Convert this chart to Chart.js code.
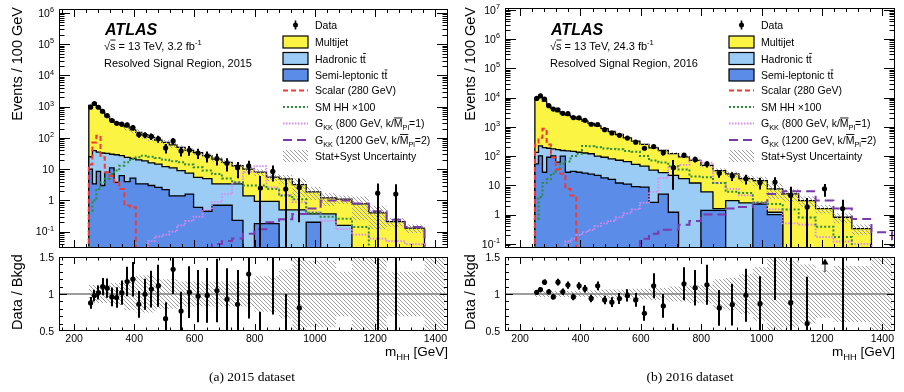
<!DOCTYPE html>
<html>
<head>
<meta charset="utf-8">
<title>m_HH, resolved signal region</title>
<script src="https://cdn.jsdelivr.net/npm/chart.js@4.4.1/dist/chart.umd.min.js"></script>
<style>
  html, body { margin: 0; padding: 0; background: #fff; }
  #page { position: relative; width: 904px; height: 392px; overflow: hidden; }
  #page canvas { position: absolute; }
</style>
</head>
<body>
<div id="page">
  <canvas id="main2015" width="452" height="252" style="left:0px;top:0px"></canvas>
  <canvas id="ratio2015" width="452" height="140" style="left:0px;top:252px"></canvas>
  <canvas id="main2016" width="452" height="252" style="left:452px;top:0px"></canvas>
  <canvas id="ratio2016" width="452" height="140" style="left:452px;top:252px"></canvas>
</div>
<script>
// m_HH binning (GeV), shared by both datasets
const binEdges = [249, 261, 274, 288, 302, 318, 333, 350, 367, 386, 405, 425, 446, 468, 492, 516,
  542, 569, 597, 627, 658, 691, 725, 761, 799, 839, 881, 925, 971, 1019, 1070, 1123, 1179, 1238,
  1299, 1364, 1432];
const xRange = [150, 1442];
const xTickLabels = [200, 400, 600, 800, 1000, 1200, 1400];
const ratioTickLabels = [0.5, 1, 1.5];

// 2015, events / 100 GeV
const multijet15 = [1075, 1251, 905, 617, 448, 347, 281, 243, 201, 158, 130, 106, 89, 70, 60, 49,
  41, 32.5, 28.5, 22, 17.6, 13.2, 9.5, 8.6, 7.1, 4.6, 4.4, 2.7, 1.5, 0.83, 0.94, 0.78, 0.40, 0.21, 0.13, 0];
const hadronic15 = [15, 35.6, 26.5, 30, 24.1, 19, 25.2, 20.8, 20, 16.8, 16.6, 15.1, 13, 11.9, 9.8, 9.6,
  7.6, 5.9, 4.9, 4.55, 2.7, 2.7, 3.17, 1.4, 0.75, 0.75, 0.5, 0.5, 0.17, 0.37, 0.16, 0, 0, 0, 0, 0];
const semilep15 = [10, 3.4, 8.5, 3.0, 7.9, 11, 3.8, 6.2, 4.0, 5.2, 3.4, 3.4, 3.0, 2.6, 2.2, 1.4,
  1.4, 1.6, 0.6, 0.45, 0.7, 0.7, 0.23, 0, 0.18, 0.18, 0, 0, 0.2, 0, 0, 0, 0, 0, 0, 0];
const scalar15 = [14, 72, 117, 24, 8, 6, 3.8, 2.3, 0.69, 0.6, 0, 0, 0, 0, 0, 0,
  0, 0, 0, 0, 0, 0, 0, 0, 0, 0, 0, 0, 0, 0, 0, 0, 0, 0, 0, 0];
const smhh15 = [0.47, 1.0, 2.3, 3.8, 4.9, 7, 9, 12.9, 16.6, 21, 24, 27, 25, 23, 20, 18,
  16.6, 14, 11.5, 9, 7, 5, 3.8, 3.0, 3.0, 2.3, 1.4, 1.1, 0.4, 0.3, 0.26, 0.14, 0, 0, 0, 0];
const gkk800_15 = [0, 0, 0, 0, 0, 0, 0, 0, 0, 0, 0, 0, 0.05, 0.07, 0.08, 0.1,
  0.16, 0.22, 0.3, 0.5, 0.88, 1.6, 3.8, 8, 12.5, 2.6, 1.5, 0.88, 0.42, 0.22, 0.12, 0.08, 0.06, 0.05, 0.04, 0];
const gkk1200_15 = [0, 0, 0, 0, 0, 0, 0, 0, 0, 0, 0, 0, 0, 0, 0, 0,
  0, 0, 0, 0, 0.04, 0.05, 0.06, 0.085, 0.12, 0.2, 0.25, 0.37, 0.55, 1.0, 1.0, 0.8, 0.45, 0.24, 0.14, 0];
const data15 = [968, 1264, 959, 715, 518, 362, 295, 275, 263, 216, 129, 124, 112, 94, 48, 80,
  38.5, 41, 33, 26.5, 22, 15.4, 11.1, 12.7, 2.5, 8.5, 2.3, 2.6, null, null, null, null, 1.7, 1.6, null, null];
const dataErr15 = [87, 100, 90, 75, 62, 48, 43, 44, 45, 42, 27, 26, 26, 24, 16, 20,
  13, 14, 12, 10, 9, 7, 6, 6, 3.6, 4.5, 2.6, 2.4, null, null, null, null, 1.8, 1.7, null, null];
const bkgUnc15 = [0.12, 0.12, 0.12, 0.12, 0.12, 0.15, 0.15, 0.15, 0.22, 0.22, 0.25, 0.25, 0.25, 0.2, 0.2, 0.2,
  0.17, 0.17, 0.17, 0.17, 0.17, 0.17, 0.17, 0.17, 0.24, 0.24, 0.33, 0.6, 0.45, 0.45, 0.3, 0.7, 0.7, 0.3, 0.3, 0.7];

// 2016, events / 100 GeV
const multijet16 = [8967, 10476, 7405, 4915, 4025, 3135, 2645, 2350, 2005, 1685, 1433, 1180, 980, 779, 610, 473,
  355, 273, 205, 157, 128, 100, 77, 59, 42, 30.4, 21.5, 14.5, 12.1, 6.3, 5.1, 3.0, 1.6, 0.81, 0.33, 0];
const hadronic16 = [79, 122, 167, 94, 73, 103, 55, 122, 115, 107, 101, 96, 78, 73, 64, 60,
  54, 43, 36.3, 30.4, 22, 20.8, 17, 12, 4.6, 0.2, 3.0, 2.5, 0.1, 0.2, 0, 0, 0, 0, 0, 0];
const semilep16 = [54, 102, 28, 91, 102, 62, 100, 28, 30, 28, 26, 24, 22, 18, 16, 12,
  11, 9, 8.7, 2.6, 5.0, 1.2, 0, 0, 1.4, 1.4, 0, 0, 2.3, 1.0, 0, 0, 0, 0, 0, 0];
const scalar16 = [250, 420, 850, 250, 90, 35, 25, 7.6, 4.5, 0, 0, 0, 0, 0, 0, 0,
  0, 0, 0, 0, 0, 0, 0, 0, 0, 0, 0, 0, 0, 0, 0, 0, 0, 0, 0, 0];
const smhh16 = [0.7, 4, 12, 16, 25, 35, 55, 65, 100, 120, 220, 215, 200, 180, 175, 170,
  150, 140, 100, 70, 60, 45, 35, 20, 19, 12, 6, 5.5, 2.6, 2.3, 1.5, 0.8, 0.38, 0.17, 0, 0];
const gkk800_16 = [0, 0, 0, 0, 0, 0, 0, 0.12, 0.15, 0.2, 0.25, 0.3, 0.4, 0.5, 0.6, 0.8,
  1.1, 1.5, 2.5, 6, 18, 40, 50, 75, 60, 12, 7.6, 4.5, 2.6, 1.5, 0.5, 0.45, 0.17, 0.12, 0.1, 0];
const gkk1200_16 = [0, 0, 0, 0, 0, 0, 0, 0, 0, 0, 0, 0, 0, 0, 0, 0,
  0, 0, 0.15, 0.22, 0.3, 0.3, 0.45, 0.6, 1.0, 1.0, 1.6, 1.8, 2.5, 5.0, 6.3, 6.3, 3.0, 1.6, 0.7, 0.25];
const data16 = [9300, 11340, 8816, 5253, 4032, 3828, 2884, 2800, 2064, 2020, 1669, 1222, 1199, 800, 614, 512,
  412, 299, 185, 211, 130, 40, 107, 77, 54, 26, 21, 16.7, 12.6, 12.9, 4.5, 1.8, 7.6, 1.6, null, null];
const dataErr16 = [280, 320, 280, 190, 150, 150, 120, 120, 95, 90, 80, 65, 65, 50, 45, 40,
  35, 30, 25, 32, 25, 33, 21, 17, 13, 7.7, 6.9, 6.1, 5.4, 6, 4.5, 1.9, 3.5, 1.6, null, null];
const bkgUnc16 = [0.04, 0.04, 0.04, 0.04, 0.04, 0.04, 0.04, 0.04, 0.04, 0.04, 0.04, 0.05, 0.05, 0.06, 0.06, 0.06,
  0.06, 0.07, 0.07, 0.08, 0.08, 0.1, 0.1, 0.12, 0.13, 0.2, 0.22, 0.27, 0.36, 0.55, 0.45, 0.4, 0.32, 0.38, 0.38, 0.7];

const FONT = '"Liberation Sans", Arial, Helvetica, sans-serif';
const SERIF = '"Liberation Serif", "Times New Roman", serif';
const C = {
  multijet: '#fbf442',
  hadronic: '#9accf6',
  semilep: '#5b8de8',
  scalar: '#ef3a36',
  smhh: '#2f8a3a',
  g800: '#dc86f2',
  g1200: '#7a3aaa',
  hatch: '#9c9c9c'
};

function makeHatch(color, step) {
  const c = document.createElement('canvas');
  c.width = step; c.height = step;
  const g = c.getContext('2d');
  g.strokeStyle = color;
  g.lineWidth = 1;
  g.beginPath();
  g.moveTo(0, 0); g.lineTo(step, step);
  g.moveTo(-1, step - 1); g.lineTo(1, step + 1);
  g.moveTo(step - 1, -1); g.lineTo(step + 1, 1);
  g.stroke();
  return g.createPattern(c, 'repeat');
}
const hatch = makeHatch(C.hatch, 4);

// ---- text with sub/superscripts and overbars ----
function partFont(mode, size) {
  const s = (mode === 'sub' || mode === 'sup') ? size * 0.7 : size;
  return s.toFixed(1) + 'px ' + FONT;
}
function richWidth(ctx, parts, size) {
  let w = 0;
  for (const [t, m] of parts) { ctx.font = partFont(m, size); w += ctx.measureText(t).width; }
  return w;
}
function drawRich(ctx, x, y, parts, size, align) {
  const w = richWidth(ctx, parts, size);
  if (align === 'right') x -= w;
  if (align === 'center') x -= w / 2;
  ctx.textAlign = 'left';
  ctx.textBaseline = 'alphabetic';
  for (const [t, m] of parts) {
    ctx.font = partFont(m, size);
    const tw = ctx.measureText(t).width;
    const dy = m === 'sub' ? size * 0.3 : m === 'sup' ? -size * 0.45 : 0;
    ctx.fillText(t, x, y + dy);
    if (m === 'bar') {
      ctx.save();
      ctx.lineWidth = 0.9;
      ctx.strokeStyle = '#000';
      ctx.beginPath();
      ctx.moveTo(x + 0.3, y - size * 0.86);
      ctx.lineTo(x + tw, y - size * 0.86);
      ctx.stroke();
      ctx.restore();
    }
    x += tw;
  }
}

// ---- histogram helpers ----
function stepPoints(values, floor) {
  const pts = [{x: xRange[0] - 20, y: floor}];
  values.forEach((v, i) => pts.push({x: binEdges[i], y: v > 0 ? v : floor}));
  pts.push({x: binEdges[values.length], y: floor});
  pts.push({x: xRange[1] + 20, y: floor});
  return pts;
}
function bandPoints(values) {
  const pts = values.map((v, i) => ({x: binEdges[i], y: v}));
  pts.push({x: binEdges[values.length], y: values[values.length - 1]});
  return pts;
}
const binCenter = i => (binEdges[i] + binEdges[i + 1]) / 2;

function stackOf(s) {
  const semiTop = s.semilep.slice();
  const hadTop = s.hadronic.map((v, i) => v + semiTop[i]);
  const total = s.multijet.map((v, i) => v + hadTop[i]);
  return {semiTop, hadTop, total};
}

// vertical error bars (arrow when the whole bar is above the range)
const errorBars = {
  id: 'errorBars',
  afterDatasetsDraw(chart) {
    const {ctx, chartArea: a, scales: {x, y}} = chart;
    ctx.save();
    ctx.beginPath();
    ctx.rect(a.left, a.top, a.right - a.left, a.bottom - a.top);
    ctx.clip();
    ctx.strokeStyle = '#000';
    ctx.fillStyle = '#000';
    chart.data.datasets.forEach(ds => {
      if (!ds.errorBars) return;
      ds.data.forEach((p, j) => {
        const e = ds.errorBars[j];
        const px = Math.round(x.getPixelForValue(p.x));
        if (p.y - e > y.max) {
          ctx.lineWidth = 1.5;
          ctx.strokeStyle = '#555';
          ctx.beginPath();
          ctx.moveTo(px, a.top + 7); ctx.lineTo(px, a.top + 15);
          ctx.stroke();
          ctx.fillStyle = '#000';
          ctx.beginPath();
          ctx.moveTo(px, a.top + 1.5); ctx.lineTo(px - 3.5, a.top + 7.5); ctx.lineTo(px + 3.5, a.top + 7.5);
          ctx.closePath(); ctx.fill();
          ctx.strokeStyle = '#000';
          return;
        }
        const lo = p.y - e;
        const yTop = y.getPixelForValue(Math.min(p.y + e, y.max * 100));
        const yBot = (y.type === 'logarithmic' && lo <= 0) ? a.bottom + 3 : y.getPixelForValue(lo);
        ctx.lineWidth = 2;
        ctx.beginPath();
        ctx.moveTo(px, yTop); ctx.lineTo(px, yBot);
        ctx.stroke();
      });
    });
    ctx.restore();
  }
};

// frame with inward ticks on all four sides, tick labels and axis titles
function framePlugin(cfg) {
  return {
    id: 'frame',
    afterDraw(chart) {
      const {ctx, chartArea: a} = chart;
      const xs = chart.scales.x, ys = chart.scales.y;
      const vx = v => Math.round(xs.getPixelForValue(v)) + 0.5;
      const vy = v => Math.round(ys.getPixelForValue(v)) + 0.5;
      ctx.save();
      ctx.strokeStyle = '#000';
      ctx.lineWidth = 1;
      ctx.beginPath();
      const xTick = (v, len) => {
        const X = vx(v);
        if (X <= a.left || X >= a.right) return;
        ctx.moveTo(X, a.bottom); ctx.lineTo(X, a.bottom - len);
        ctx.moveTo(X, a.top); ctx.lineTo(X, a.top + len);
      };
      const yTick = (v, len) => {
        const Y = vy(v);
        if (Y < a.top || Y > a.bottom) return;
        ctx.moveTo(a.left, Y); ctx.lineTo(a.left + len, Y);
        ctx.moveTo(a.right, Y); ctx.lineTo(a.right - len, Y);
      };
      for (let v = Math.ceil(xs.min / 40) * 40; v <= xs.max; v += 40) xTick(v, cfg.xLen / 2);
      xTickLabels.forEach(v => xTick(v, cfg.xLen));
      let yMajor = [];
      if (cfg.log) {
        for (let e = Math.floor(Math.log10(ys.min)); e <= Math.ceil(Math.log10(ys.max)); e++) {
          const p = Math.pow(10, e);
          if (p >= ys.min && p <= ys.max) { yMajor.push(e); yTick(p, cfg.yLen); }
          for (let m = 2; m < 10; m++) if (m * p >= ys.min && m * p <= ys.max) yTick(m * p, cfg.yLen / 2);
        }
      } else {
        for (let v = ys.min; v <= ys.max + 1e-9; v += 0.1) yTick(v, cfg.yLen / 2);
        ratioTickLabels.forEach(v => yTick(v, cfg.yLen));
      }
      ctx.stroke();
      ctx.strokeRect(a.left + 0.5, a.top + 0.5, a.right - a.left - 1, a.bottom - a.top - 1);

      ctx.fillStyle = '#000';
      const fs = 10.5;
      if (cfg.log) {
        yMajor.forEach(e => {
          const Y = ys.getPixelForValue(Math.pow(10, e)) + fs * 0.36;
          const parts = e === 0 ? [['1', '']] : e === 1 ? [['10', '']] : [['10', ''], [String(e), 'sup']];
          drawRich(ctx, a.left - 5, Y, parts, fs, 'right');
        });
      } else {
        ratioTickLabels.forEach(v => {
          drawRich(ctx, a.left - 5, ys.getPixelForValue(v) + fs * 0.36, [[String(v), '']], fs, 'right');
        });
      }
      if (cfg.xLabels) {
        xTickLabels.forEach(v => drawRich(ctx, xs.getPixelForValue(v), a.bottom + 11, [[String(v), '']], fs, 'center'));
      }

      // y-axis title
      ctx.save();
      ctx.font = '14.5px ' + FONT;
      ctx.textBaseline = 'middle';
      ctx.translate(cfg.titleX, cfg.titleY);
      ctx.rotate(-Math.PI / 2);
      ctx.textAlign = cfg.titleAlign;
      ctx.fillText(cfg.title, 0, 0);
      ctx.restore();

      if (cfg.xLabels) {
        drawRich(ctx, a.right, a.bottom + 25, [['m', ''], ['HH', 'sub'], [' [GeV]', '']], 13.5, 'right');
        ctx.font = '13.5px ' + SERIF;
        ctx.textAlign = 'center';
        ctx.textBaseline = 'alphabetic';
        ctx.fillText(cfg.caption, cfg.captionX, 129);
      }
      ctx.restore();
    }
  };
}

// ATLAS label, region text and legend
function legendPlugin(lumi, year) {
  return {
    id: 'atlasLegend',
    afterDraw(chart) {
      const {ctx, chartArea: a} = chart;
      ctx.save();
      ctx.fillStyle = '#000';
      ctx.font = 'italic bold 16px ' + FONT;
      ctx.textAlign = 'left';
      ctx.textBaseline = 'alphabetic';
      ctx.fillText('ATLAS', a.left + 46, 35);
      drawRich(ctx, a.left + 45, 49.5, [['\u221A', ''], ['s', 'bar'], [' = 13 TeV, ' + lumi + ' fb', ''], ['-1', 'sup']], 11);
      drawRich(ctx, a.left + 45, 66.5, [['Resolved Signal Region, ' + year, '']], 11);

      const bx = a.left + 224, bw = 25, tx = a.left + 256, fs = 10.5;
      const rows = [
        {y: 25, kind: 'data', parts: [['Data', '']]},
        {y: 42, kind: 'box', color: C.multijet, parts: [['Multijet', '']]},
        {y: 58.5, kind: 'box', color: C.hadronic, parts: [['Hadronic t', ''], ['t', 'bar']]},
        {y: 75, kind: 'box', color: C.semilep, parts: [['Semi-leptonic t', ''], ['t', 'bar']]},
        {y: 90, kind: 'line', color: C.scalar, dash: [5, 3], parts: [['Scalar (280 GeV)', '']]},
        {y: 106.5, kind: 'line', color: C.smhh, dash: [2, 2], parts: [['SM HH \u00D7100', '']]},
        {y: 123, kind: 'line', color: C.g800, dash: [1.5, 1.5], parts: [['G', ''], ['KK', 'sub'], [' (800 GeV, k/', ''], ['M', 'bar'], ['Pl', 'sub'], ['=1)', '']]},
        {y: 139.5, kind: 'line', color: C.g1200, dash: [9, 5], parts: [['G', ''], ['KK', 'sub'], [' (1200 GeV, k/', ''], ['M', 'bar'], ['Pl', 'sub'], ['=2)', '']]},
        {y: 156, kind: 'hatch', parts: [['Stat+Syst Uncertainty', '']]}
      ];
      rows.forEach(r => {
        if (r.kind === 'data') {
          ctx.fillStyle = '#000';
          ctx.strokeStyle = '#000';
          ctx.lineWidth = 1.6;
          ctx.beginPath(); ctx.moveTo(bx + bw / 2, r.y - 4.5); ctx.lineTo(bx + bw / 2, r.y + 4.5); ctx.stroke();
          ctx.beginPath(); ctx.arc(bx + bw / 2, r.y, 2.5, 0, Math.PI * 2); ctx.fill();
        } else if (r.kind === 'box') {
          ctx.fillStyle = r.color;
          ctx.fillRect(bx, r.y - 6, bw, 12);
          ctx.strokeStyle = '#000';
          ctx.lineWidth = 1.2;
          ctx.strokeRect(bx, r.y - 6, bw, 12);
        } else if (r.kind === 'line') {
          ctx.strokeStyle = r.color;
          ctx.lineWidth = 2;
          ctx.setLineDash(r.dash);
          ctx.beginPath(); ctx.moveTo(bx, r.y + 0.5); ctx.lineTo(bx + bw, r.y + 0.5); ctx.stroke();
          ctx.setLineDash([]);
        } else {
          ctx.fillStyle = hatch;
          ctx.fillRect(bx, r.y - 6, bw, 12);
        }
        ctx.fillStyle = '#000';
        drawRich(ctx, tx, r.y + 4, r.parts, fs);
      });
      ctx.restore();
    }
  };
}

const baseOptions = (pad, yScale) => ({
  responsive: false,
  animation: false,
  devicePixelRatio: 1,
  events: [],
  layout: {padding: pad},
  plugins: {legend: {display: false}, tooltip: {enabled: false}},
  scales: {
    x: {type: 'linear', min: xRange[0], max: xRange[1], display: false},
    y: Object.assign({display: false}, yScale)
  },
  elements: {line: {tension: 0, borderJoinStyle: 'miter'}}
});

function buildMain(id, pad, yMin, yMax, s, frameCfg, lumi, year) {
  const {semiTop, hadTop, total} = stackOf(s);
  const upper = total.map((t, i) => t * (1 + s.unc[i]));
  const lower = total.map((t, i) => t * (1 - s.unc[i]));
  const pts = [], errs = [];
  s.data.forEach((d, i) => {
    if (d !== null) { pts.push({x: binCenter(i), y: d}); errs.push(s.dataErr[i]); }
  });
  const hist = (values, extra) => Object.assign({
    data: stepPoints(values, yMin), stepped: true, pointRadius: 0, fill: false, borderWidth: 2
  }, extra);
  new Chart(document.getElementById(id), {
    type: 'line',
    data: {datasets: [
      {label: 'Data', data: pts, showLine: false, pointRadius: 2.6, pointBackgroundColor: '#000',
        pointBorderColor: '#000', pointBorderWidth: 0, errorBars: errs, order: 0},
      hist(s.scalar, {label: 'Scalar', borderColor: C.scalar, borderDash: [5, 3], order: 1}),
      hist(s.smhh, {label: 'SM HH', borderColor: C.smhh, borderDash: [2, 2], order: 2}),
      hist(s.g800, {label: 'G800', borderColor: C.g800, borderDash: [1.5, 1.5], borderWidth: 1.8, order: 3}),
      hist(s.g1200, {label: 'G1200', borderColor: C.g1200, borderDash: [9, 5], order: 4}),
      hist(upper, {label: 'Unc up', borderWidth: 0, borderColor: 'transparent', fill: '+1', backgroundColor: hatch, order: 5}),
      hist(lower, {label: 'Unc down', borderWidth: 0, borderColor: 'transparent', order: 5}),
      hist(semiTop, {label: 'Semi-leptonic', borderColor: '#000', borderWidth: 1.3, fill: 'start', backgroundColor: C.semilep, order: 6}),
      hist(hadTop, {label: 'Hadronic', borderColor: '#000', borderWidth: 1.3, fill: 'start', backgroundColor: C.hadronic, order: 7}),
      hist(total, {label: 'Multijet', borderColor: '#000', borderWidth: 1.3, fill: 'start', backgroundColor: C.multijet, order: 8})
    ]},
    options: baseOptions(pad, {type: 'logarithmic', min: yMin, max: yMax}),
    plugins: [errorBars, framePlugin(frameCfg), legendPlugin(lumi, year)]
  });
}

function buildRatio(id, pad, s, frameCfg) {
  const {total} = stackOf(s);
  const pts = [], errs = [];
  s.data.forEach((d, i) => {
    if (d !== null && total[i] > 0) { pts.push({x: binCenter(i), y: d / total[i]}); errs.push(s.dataErr[i] / total[i]); }
  });
  new Chart(document.getElementById(id), {
    type: 'line',
    data: {datasets: [
      {label: 'Data / Bkgd', data: pts, showLine: false, pointRadius: 2.6, pointBackgroundColor: '#000',
        pointBorderColor: '#000', pointBorderWidth: 0, errorBars: errs, order: 0},
      {label: 'unity', data: [{x: xRange[0], y: 1}, {x: xRange[1], y: 1}], borderColor: '#7d7d7d',
        borderWidth: 1.6, pointRadius: 0, fill: false, order: 1},
      {label: 'Unc up', data: bandPoints(s.unc.map(u => 1 + u)), stepped: true, pointRadius: 0, borderWidth: 0,
        borderColor: 'transparent', fill: '+1', backgroundColor: hatch, order: 2},
      {label: 'Unc down', data: bandPoints(s.unc.map(u => 1 - u)), stepped: true, pointRadius: 0, borderWidth: 0,
        borderColor: 'transparent', fill: false, order: 2}
    ]},
    options: baseOptions(pad, {type: 'linear', min: 0.5, max: 1.5}),
    plugins: [errorBars, framePlugin(frameCfg)]
  });
}

const set15 = {multijet: multijet15, hadronic: hadronic15, semilep: semilep15, scalar: scalar15, smhh: smhh15,
  g800: gkk800_15, g1200: gkk1200_15, data: data15, dataErr: dataErr15, unc: bkgUnc15};
const set16 = {multijet: multijet16, hadronic: hadronic16, semilep: semilep16, scalar: scalar16, smhh: smhh16,
  g800: gkk800_16, g1200: gkk1200_16, data: data16, dataErr: dataErr16, unc: bkgUnc16};

buildMain('main2015', {left: 59, top: 9, right: 4, bottom: 3}, 0.03, 1.34e6, set15,
  {log: true, xLen: 8, yLen: 11, title: 'Events / 100 GeV', titleX: 18, titleY: 7, titleAlign: 'right'},
  '3.2', '2015');
buildRatio('ratio2015', {left: 59, top: 5, right: 4, bottom: 61}, set15,
  {log: false, xLen: 7, yLen: 8, xLabels: true, title: 'Data / Bkgd', titleX: 18, titleY: 40, titleAlign: 'center',
   caption: '(a) 2015 dataset', captionX: 252});
buildMain('main2016', {left: 53, top: 8, right: 9, bottom: 3}, 0.072, 1.15e7, set16,
  {log: true, xLen: 8, yLen: 11, title: 'Events / 100 GeV', titleX: 19, titleY: 7, titleAlign: 'right'},
  '24.3', '2016');
buildRatio('ratio2016', {left: 53, top: 5, right: 9, bottom: 61}, set16,
  {log: false, xLen: 7, yLen: 8, xLabels: true, title: 'Data / Bkgd', titleX: 19, titleY: 40, titleAlign: 'center',
   caption: '(b) 2016 dataset', captionX: 238});
</script>
</body>
</html>
